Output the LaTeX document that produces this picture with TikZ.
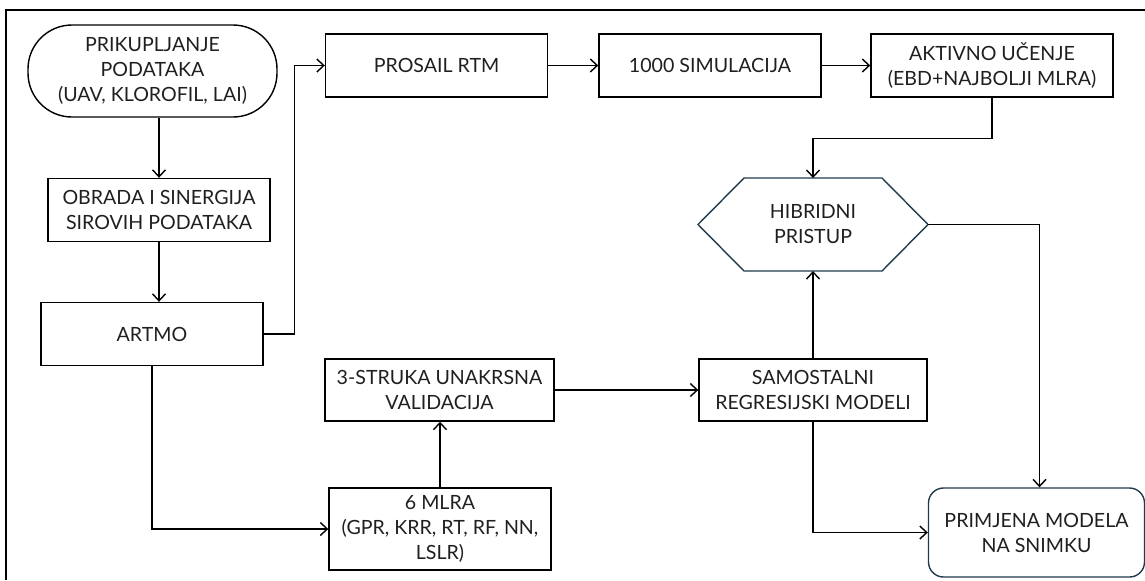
\documentclass[tikz,border=0pt]{standalone}
\usepackage{fontspec}
\setmainfont{Lato}
\usetikzlibrary{arrows.meta}
\definecolor{deepteal}{HTML}{1F3B4D}

\begin{document}
\begin{tikzpicture}[x=0.5pt, y=-0.5pt, line width=0.7pt,
  every node/.style = {align=center, font=\fontsize{9.8}{12.5}\selectfont, text=black!88},
  box/.style = {shape=rectangle, draw, minimum width=111pt, minimum height=31.5pt},
  endbox/.style = {box, rounded corners=22pt},
  link/.style = {-{Straight Barb[length=3.5pt, width=6.5pt]}}]
  \useasboundingbox (0,0) rectangle (1145,580);
  \draw[line width=1pt] (6,580) -- (6,10) -- (1145,10);

  \node[endbox, minimum width=124.5pt, minimum height=46pt] (collect) at (152.5,71)
    {PRIKUPLJANJE\\ PODATAKA\\ (UAV, KLOROFIL, LAI)};
  \node[box] (process) at (159,210) {OBRADA I SINERGIJA\\ SIROVIH PODATAKA};
  \node[box] (artmo) at (152,334) {ARTMO};
  \node[box] (prosail) at (436.5,65.5) {PROSAIL RTM};
  \node[box] (sim) at (710,65.5) {1000 SIMULACIJA};
  \node[box, minimum width=121pt] (active) at (992,65.5) {AKTIVNO UČENJE\\ (EBD+NAJBOLJI MLRA)};
  \node[minimum width=115pt, minimum height=46.5pt, outer sep=0pt] (hybrid) at (813,224.5)
    {HIBRIDNI\\ PRISTUP};
  \node[box, minimum width=114.5pt, minimum height=31pt] (cv) at (439.5,390)
    {3-STRUKA UNAKRSNA\\ VALIDACIJA};
  \node[box, minimum height=41pt] (mlra) at (440,529)
    {6 MLRA\\ (GPR, KRR, RT, RF, NN,\\ LSLR)};
  \node[box, minimum width=114pt, minimum height=31pt] (solo) at (813,390)
    {SAMOSTALNI\\ REGRESIJSKI MODELI};
  \node[box, draw=deepteal, rounded corners=7.5pt, minimum width=108pt, minimum height=44.5pt]
    (apply) at (1036.5,532.5) {PRIMJENA MODELA\\ NA SNIMKU};

  \draw[deepteal] (hybrid.west) -- ([xshift=23pt]hybrid.north west)
    -- ([xshift=-23pt]hybrid.north east) -- (hybrid.east)
    -- ([xshift=-23pt]hybrid.south east) -- ([xshift=23pt]hybrid.south west) -- cycle;

  \draw[link] (collect.south -| process.north) -- (process.north);
  \draw[link] (process.south) -- (process.south |- artmo.north);
  \draw[link] (artmo.east) -- ++(31,0) |- (prosail.west);
  \draw[link] (prosail) -- (sim);
  \draw[link] (sim) -- (active);
  \draw[link] (active.south) -- ++(0,41) -| (hybrid.north);
  \draw[link] (hybrid.east) -| ([xshift=1.5pt]apply.north);
  \draw[link] (artmo.south) |- (mlra.west);
  \draw[link] (mlra.north) -- (mlra.north |- cv.south);
  \draw[link] (cv.east) -- (solo.west);
  \draw[link] (solo.north) -- (hybrid.south);
  \draw[link] (solo.south) |- (apply.west);
\end{tikzpicture}
\end{document}
